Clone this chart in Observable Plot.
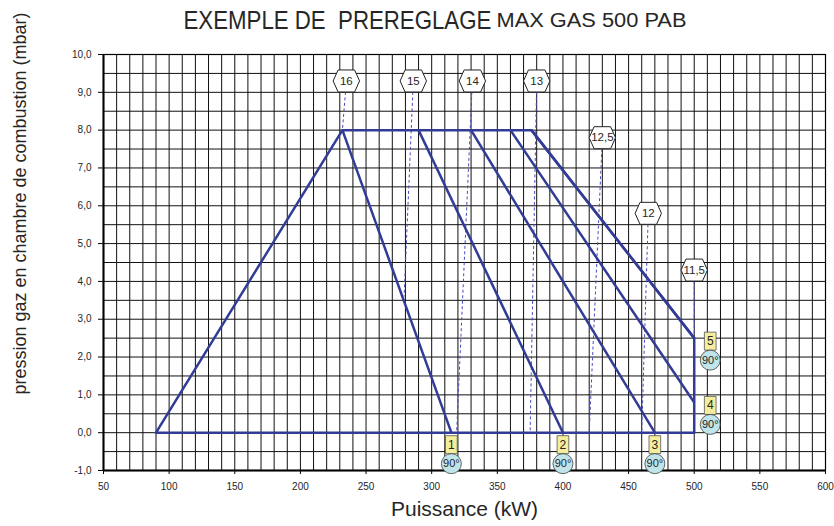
<!DOCTYPE html>
<html>
<head>
<meta charset="utf-8">
<script src="https://cdn.jsdelivr.net/npm/d3@7"></script>
<script src="https://cdn.jsdelivr.net/npm/@observablehq/plot@0.6"></script>
<style>
  html, body { margin: 0; padding: 0; background: #fff; }
  #chart svg { display: block; }
</style>
</head>
<body>
<div id="chart"></div>
<script>
// Grid and tick positions
const xTicks = [50, 100, 150, 200, 250, 300, 350, 400, 450, 500, 550, 600];
const yTicks = [-1, 0, 1, 2, 3, 4, 5, 6, 7, 8, 9, 10];
const xGrid = d3.range(50, 601, 10);
const yGrid = d3.range(-1, 10.01, 0.5);

// Working field outline (kW, mbar)
const fieldX = [90, 232, 376, 500, 500, 90];
const fieldY = [0, 8, 8, 2.5, 0, 0];

// Air damper setting lines 1 to 5 (start on the 8 mbar line, end at the box)
const settingNames = ["1", "2", "3", "4", "5"];
const settingX1 = [232, 290, 330, 360, 376];
const settingY1 = [8, 8, 8, 8, 8];
const settingX2 = [315, 400, 470, 500, 500];
const settingY2 = [0, 0, 0, 0.8, 2.5];
const settingAngle = ["90°", "90°", "90°", "90°", "90°"];

// Head position markers
const headLabels = ["16", "15", "14", "13", "12,5", "12", "11,5"];
const headX = [235, 286, 331, 380, 430, 465, 500];
const headY = [9.3, 9.3, 9.3, 9.3, 7.8, 5.8, 4.3];
const headToX = [232, 279, 319, 375, 420, 460, 500];
const headToY = [8, 3.6, 0, 0, 0, 0, 2.5];

const settings = settingNames.map((name, i) => ({
  name, x1: settingX1[i], y1: settingY1[i], x2: settingX2[i], y2: settingY2[i], angle: settingAngle[i]
}));
const heads = headLabels.map((label, i) => ({
  label, x: headX[i], y: headY[i], x2: headToX[i], y2: headToY[i]
}));
const field = fieldX.map((x, i) => ({x, y: fieldY[i]}));

// Boxes 1-3 sit under their line end, boxes 4-5 to the right of it
const boxDx = i => (i < 3 ? 0 : 16);
const boxDy = i => (i < 3 ? 12 : 3);
const circleDy = i => (i < 3 ? 31 : 22);

const hexagon = {
  draw(ctx, size) {
    const h = Math.sqrt(size / Math.PI), w = h * 1.2, t = h * 0.75;
    ctx.moveTo(-w, 0); ctx.lineTo(-t, -h); ctx.lineTo(t, -h);
    ctx.lineTo(w, 0); ctx.lineTo(t, h); ctx.lineTo(-t, h); ctx.closePath();
  }
};
const tallBox = {
  draw(ctx, size) {
    const h = Math.sqrt(size / Math.PI), w = h * 0.65;
    ctx.rect(-w, -h, 2 * w, 2 * h);
  }
};

const blue = "#323c96";
const ink = "#262626";
const comma = d => d.toFixed(1).replace(".", ",");
const font = "Liberation Sans, Arial, Helvetica, sans-serif";

const boxesLayer = settings.flatMap((s, i) => [
  Plot.dot([s], {x: "x2", y: "y2", dx: boxDx(i), dy: boxDy(i), r: 9, symbol: tallBox, fill: "#f4ee9c", stroke: "#555", strokeWidth: 0.8}),
  Plot.text([s], {x: "x2", y: "y2", dx: boxDx(i), dy: boxDy(i), text: "name", fontSize: 12, fill: ink}),
  Plot.dot([s], {x: "x2", y: "y2", dx: boxDx(i), dy: circleDy(i), r: 10, fill: "#bfe4ea", stroke: "#444", strokeWidth: 0.8}),
  Plot.text([s], {x: "x2", y: "y2", dx: boxDx(i), dy: circleDy(i), text: "angle", fontSize: 11, fill: ink})
]);

const chart = Plot.plot({
  width: 834,
  height: 526,
  marginLeft: 103,
  marginRight: 9,
  marginTop: 54,
  marginBottom: 56,
  style: {fontFamily: font, background: "#fff"},
  x: {domain: [50, 600]},
  y: {domain: [-1, 10]},
  marks: [
    Plot.ruleX(xGrid, {stroke: "#111", strokeWidth: 1}),
    Plot.ruleY(yGrid, {stroke: "#111", strokeWidth: 1}),
    Plot.frame({stroke: "#000", strokeWidth: 1.2}),
    Plot.ruleX([50], {stroke: "#000", strokeWidth: 2}),
    Plot.ruleY([-1], {stroke: "#000", strokeWidth: 2}),
    Plot.axisY(yTicks, {tickFormat: comma, tickSize: 5, tickPadding: 7, fontSize: 10, label: null, stroke: "#000", fill: ink}),
    Plot.axisX(xTicks, {tickFormat: d => String(d), tickSize: 4, tickPadding: 8, fontSize: 10, label: null, stroke: "#000", fill: ink}),
    Plot.link(heads, {x1: "x", y1: "y", x2: "x2", y2: "y2", stroke: "#4a4cc0", strokeWidth: 1, strokeDasharray: "3,2.5"}),
    Plot.line(field, {x: "x", y: "y", stroke: blue, strokeWidth: 2.5}),
    Plot.link(settings, {x1: "x1", y1: "y1", x2: "x2", y2: "y2", stroke: blue, strokeWidth: 2.5}),
    Plot.dot(heads, {x: "x", y: "y", r: 11, symbol: hexagon, fill: "#fff", stroke: "#222", strokeWidth: 1}),
    Plot.text(heads, {x: "x", y: "y", text: "label", fontSize: 11.5, fill: ink}),
    ...boxesLayer,
    Plot.text(["pression gaz en chambre de combustion (mbar)"], {frameAnchor: "left", textAnchor: "middle", dx: -83, dy: -59, rotate: -90, fontSize: 18, fill: ink}),
    Plot.text(["Puissance (kW)"], {frameAnchor: "bottom", dy: 45, fontSize: 21, fill: ink}),
    Plot.text(["EXEMPLE DE  PREREGLAGE"], {frameAnchor: "top-left", dx: 80, dy: -43, textAnchor: "start", fontSize: 25, fill: ink, className: "title-main"}),
    Plot.text(["MAX GAS 500 PAB"], {frameAnchor: "top-left", dx: 393, dy: -42, textAnchor: "start", fontSize: 21, fill: ink, className: "title-model"})
  ]
});

document.getElementById("chart").appendChild(chart);

// Condense the two title parts horizontally to their set widths
for (const [cls, len] of [["title-main", 308], ["title-model", 190]]) {
  chart.querySelectorAll(`.${cls} text`).forEach(t => {
    const natural = t.getComputedTextLength();
    const s = len / natural;
    t.setAttribute("transform", `${t.getAttribute("transform") || ""} scale(${s},1)`);
  });
}
</script>
</body>
</html>
